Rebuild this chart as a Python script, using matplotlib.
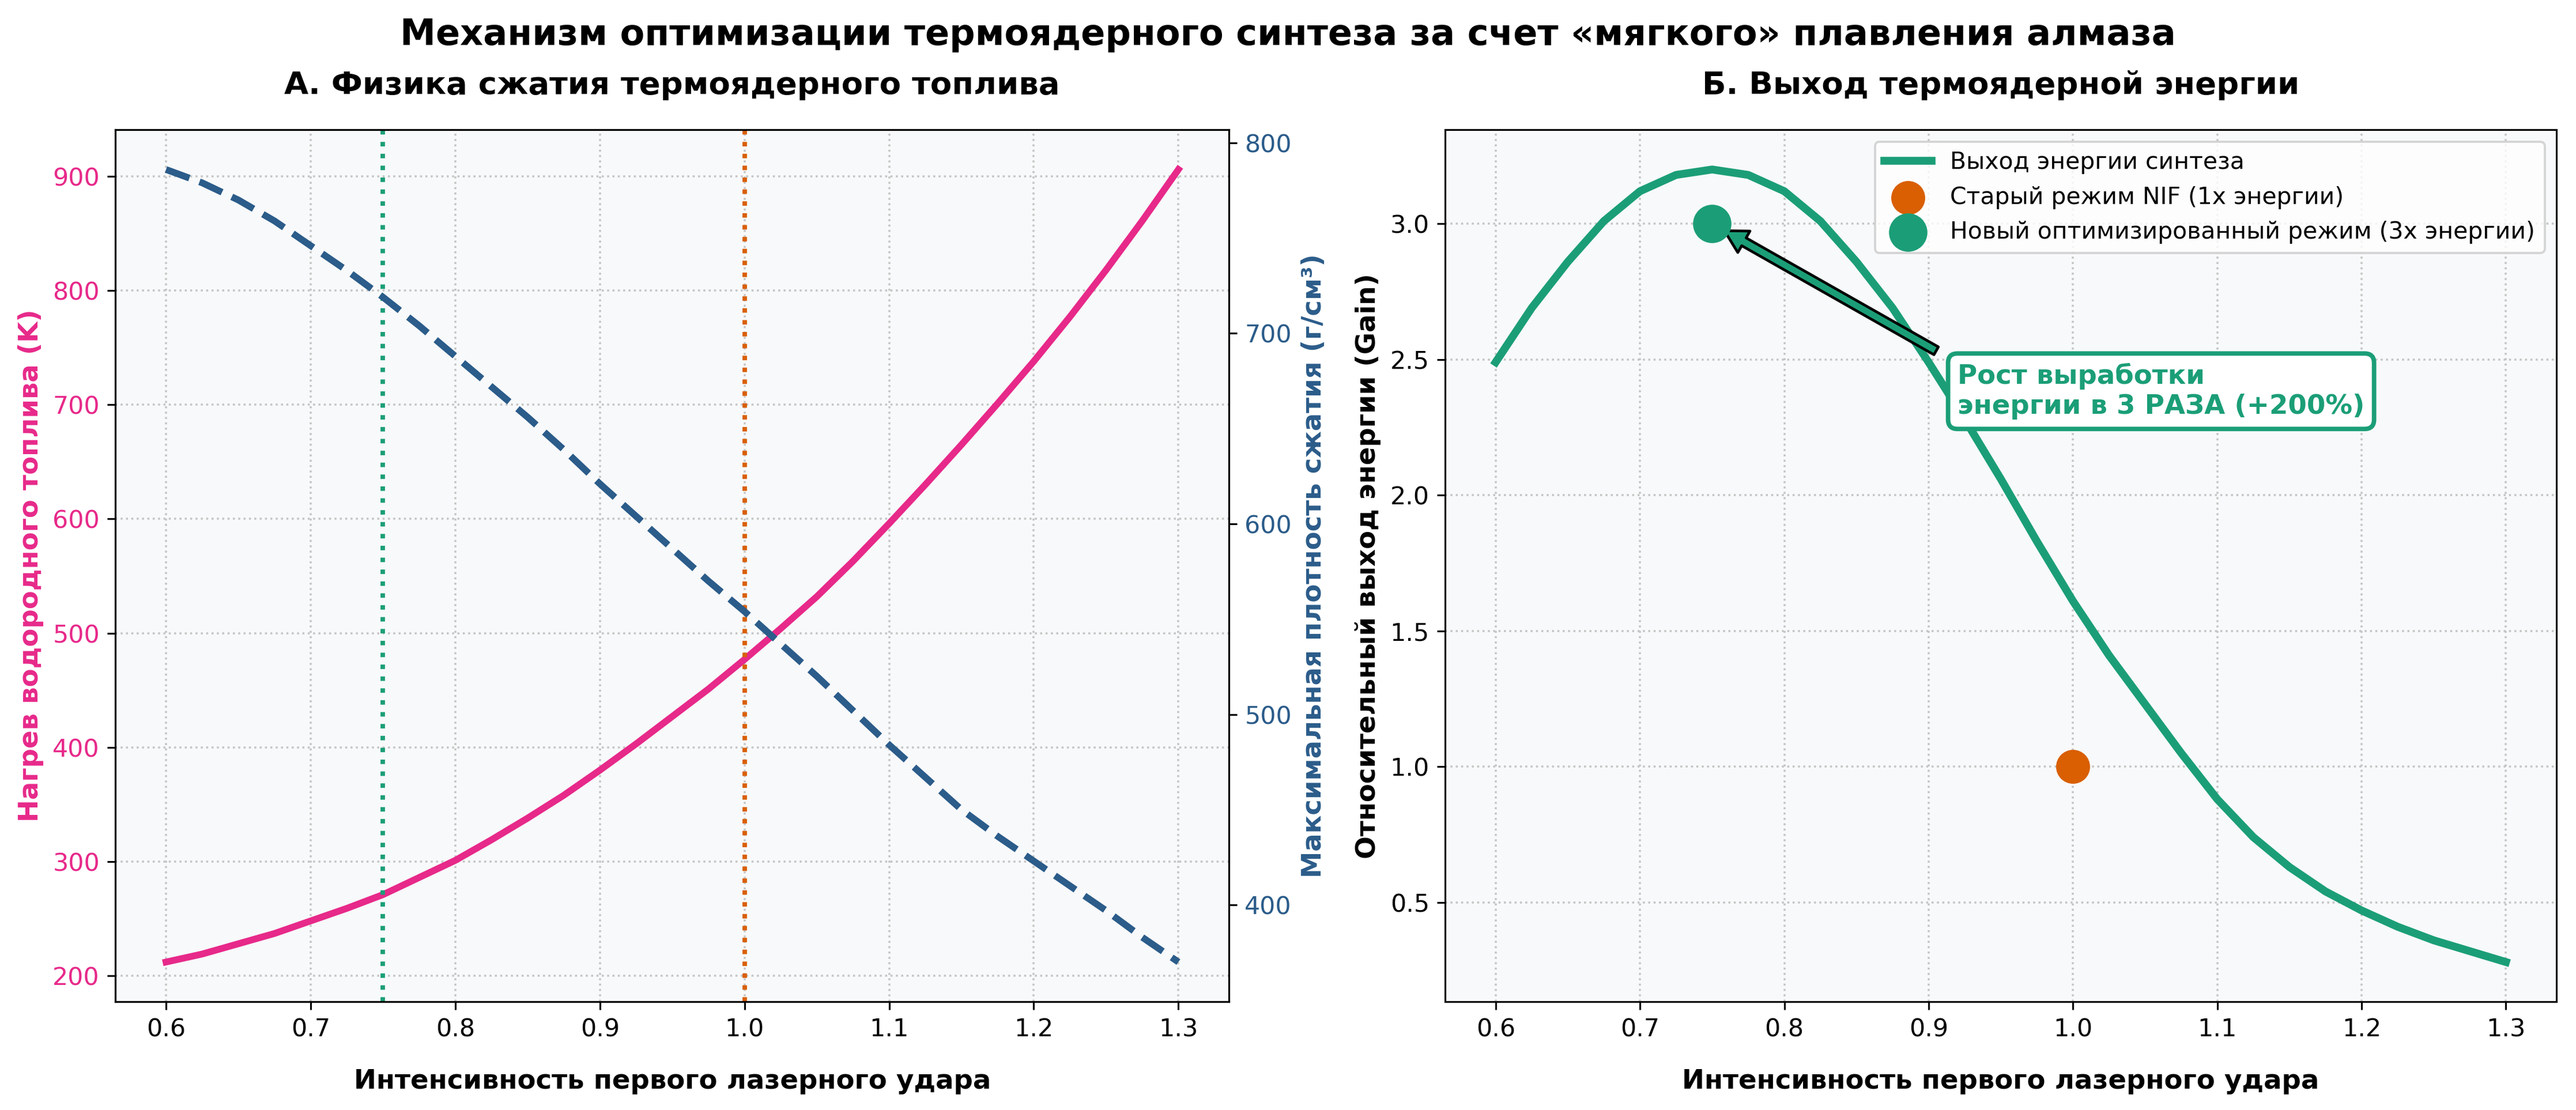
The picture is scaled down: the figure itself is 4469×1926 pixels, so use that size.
import matplotlib.pyplot as plt

# интенсивность первого лазерного удара (общая ось X)
intensity = [0.600, 0.625, 0.650, 0.675, 0.700, 0.725, 0.750, 0.775, 0.800, 0.825,
             0.850, 0.875, 0.900, 0.925, 0.950, 0.975, 1.000, 1.025, 1.050, 1.075,
             1.100, 1.125, 1.150, 1.175, 1.200, 1.225, 1.250, 1.275, 1.300]
# панель А: нагрев топлива (K) и плотность сжатия (г/см³)
fuel_heating = [212, 219, 228, 237, 248, 259, 271, 286, 301, 319,
                338, 358, 380, 403, 427, 451, 477, 504, 532, 563,
                596, 630, 665, 701, 738, 777, 818, 861, 906]
peak_density = [786, 779, 770, 759, 746, 733, 719, 704, 688, 672,
                656, 639, 621, 604, 587, 570, 554, 537, 520, 502,
                484, 467, 450, 436, 423, 410, 397, 383, 370]
# панель Б: относительный выход энергии
fusion_gain = [2.49, 2.69, 2.86, 3.01, 3.12, 3.18, 3.20, 3.18, 3.12, 3.01,
               2.86, 2.69, 2.49, 2.28, 2.06, 1.83, 1.61, 1.41, 1.23, 1.05,
               0.88, 0.74, 0.63, 0.54, 0.47, 0.41, 0.36, 0.32, 0.28]
old_mode_x, old_mode_y = [1.0], [1.0]
new_mode_x, new_mode_y = [0.75], [3.0]
old_line = 1.0
new_line = 0.75

pink = '#e7298a'
blue = '#2b5c8a'
green = '#1b9e77'
orange = '#d95f02'
face = '#f8f9fa'
grid_kw = dict(ls=':', color='#c4c4c4', lw=0.9)

fig = plt.figure(figsize=(4469 / 280, 1926 / 280), dpi=280)
ax1 = fig.add_axes([0.0448, 0.0976, 0.4323, 0.7854])
ax3 = fig.add_axes([0.5610, 0.0976, 0.4314, 0.7854])

fig.suptitle('Механизм оптимизации термоядерного синтеза за счет «мягкого» плавления алмаза',
             fontsize=16, fontweight='bold', y=0.984)

# ---- панель А
ax1.set_facecolor(face)
ax1.plot(intensity, fuel_heating, color=pink, lw=3)
ax1.axvline(new_line, color=green, ls=':', lw=2)
ax1.axvline(old_line, color=orange, ls=':', lw=2)
ax1.set_ylabel('Нагрев водородного топлива (K)', color=pink, fontsize=12, fontweight='bold')
ax1.tick_params(axis='y', labelcolor=pink, labelsize=11)
ax1.tick_params(axis='x', labelsize=11)
ax1.set_xlabel('Интенсивность первого лазерного удара', fontsize=12, fontweight='bold', labelpad=12)
ax1.grid(True, **grid_kw)
ax1.set_title('А. Физика сжатия термоядерного топлива', fontsize=14, fontweight='bold', pad=16)

ax2 = ax1.twinx()
ax2.plot(intensity, peak_density, color=blue, lw=3, ls='--')
ax2.set_ylabel('Максимальная плотность сжатия (г/см³)', color=blue, fontsize=12, fontweight='bold')
ax2.tick_params(axis='y', labelcolor=blue, labelsize=11)

# ---- панель Б
ax3.set_facecolor(face)
ax3.plot(intensity, fusion_gain, color=green, lw=3.5, label='Выход энергии синтеза')
ax3.scatter(old_mode_x, old_mode_y, s=200, color=orange, zorder=5, label='Старый режим NIF (1x энергии)')
ax3.scatter(new_mode_x, new_mode_y, s=260, color=green, zorder=5,
            label='Новый оптимизированный режим (3x энергии)')
ax3.annotate('Рост выработки\nэнергии в 3 РАЗА (+200%)',
             xy=(new_mode_x[0], new_mode_y[0]), xytext=(0.92, 2.3),
             fontsize=12, fontweight='bold', color=green,
             bbox=dict(boxstyle='round,pad=0.35', fc='white', ec=green, lw=2),
             arrowprops=dict(facecolor=green, edgecolor='black', shrink=0.05,
                             width=4, headwidth=11, headlength=10, lw=1.2))
ax3.set_xlabel('Интенсивность первого лазерного удара', fontsize=12, fontweight='bold', labelpad=12)
ax3.set_ylabel('Относительный выход энергии (Gain)', fontsize=12, fontweight='bold')
ax3.tick_params(labelsize=11)
ax3.grid(True, **grid_kw)
ax3.legend(loc='upper right', fontsize=10.5)
ax3.set_title('Б. Выход термоядерной энергии', fontsize=14, fontweight='bold', pad=16)

fig.savefig('out.png', dpi=280)
